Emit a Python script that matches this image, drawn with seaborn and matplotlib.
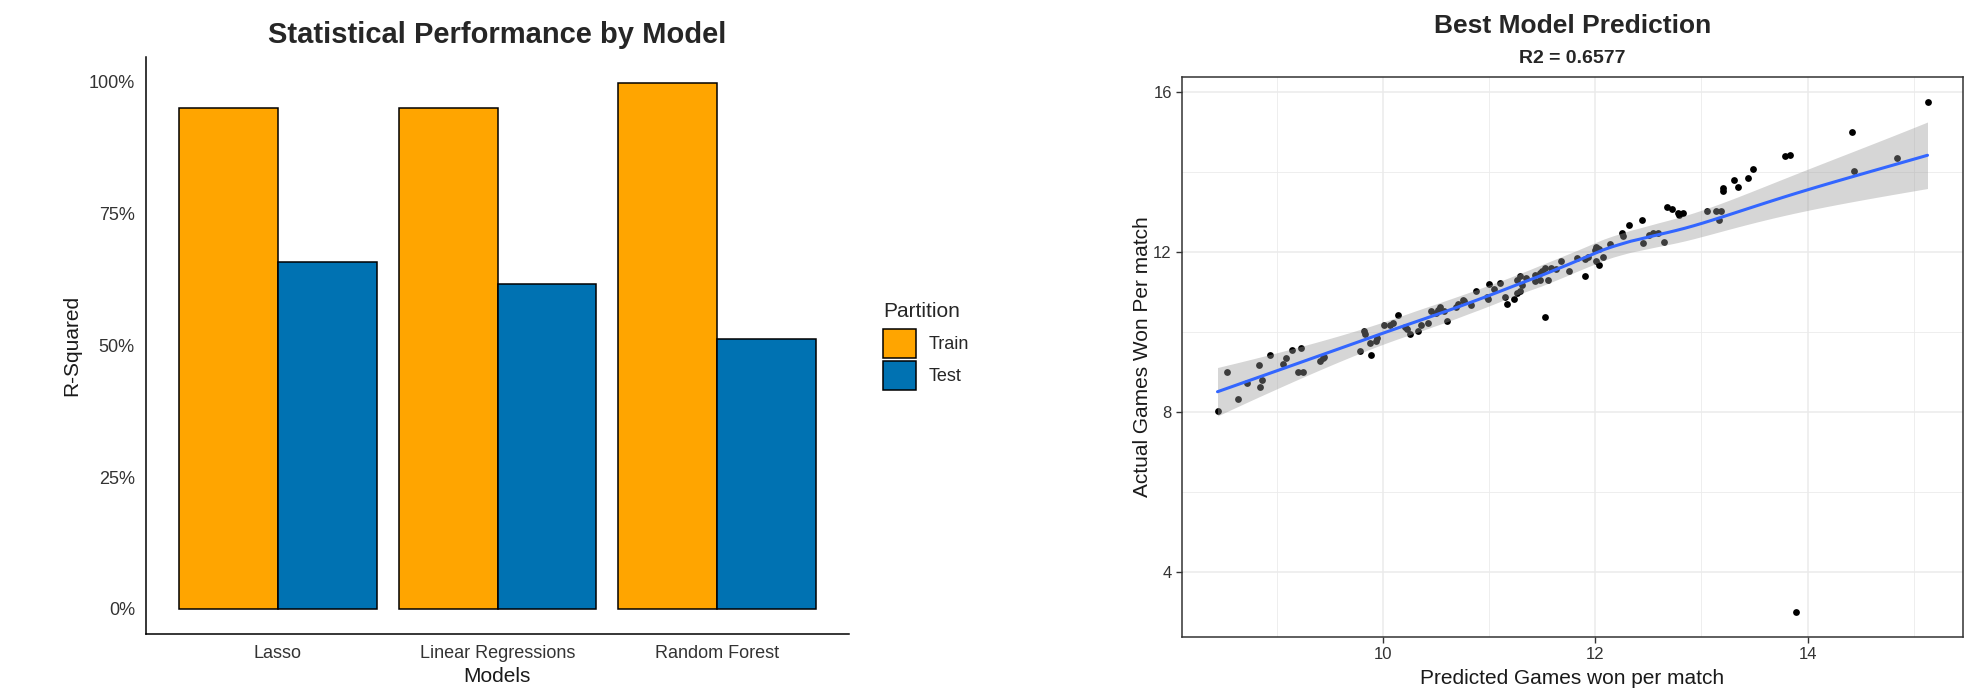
import matplotlib
matplotlib.use('Agg')
import matplotlib.pyplot as plt
from matplotlib.ticker import PercentFormatter, MultipleLocator
import seaborn as sns
import numpy as np
import pandas as pd

sns.set_style('white')
plt.rcParams['font.family'] = ['Liberation Sans', 'DejaVu Sans']

#%% data
models = ['Lasso', 'Linear Regressions', 'Random Forest']
train_r2 = [0.950, 0.951, 0.997]
test_r2 = [0.658, 0.616, 0.512]

pred = [15.13, 14.42, 13.79, 13.83, 14.84, 14.44, 13.49, 13.44, 13.31, 13.34,
        13.20, 13.20, 13.05, 13.14, 13.18, 13.17, 12.68, 12.72, 12.78, 12.83,
        12.79, 12.44, 12.32, 12.25, 12.26, 12.54, 12.59, 12.51, 12.65, 12.45,
        12.14, 12.01, 12.02, 12.00, 12.03, 12.07, 11.93, 11.90, 12.01, 12.03,
        11.83, 11.90, 11.68, 11.75, 11.63, 11.58, 11.53, 11.50, 11.48, 11.43,
        11.55, 11.43, 11.48, 11.53, 11.29, 11.26, 11.35, 11.31, 11.29, 11.26,
        11.23, 11.17, 11.15, 11.10, 11.00, 11.05, 10.99, 10.98, 10.88, 10.83,
        10.76, 10.71, 10.69, 10.75, 10.54, 10.52, 10.50, 10.45, 10.57, 10.60,
        10.42, 10.36, 10.33, 10.25, 10.23, 10.21, 10.14, 10.09, 10.07, 10.01,
        9.94, 9.93, 9.88, 9.82, 9.83, 9.78, 9.89, 9.43, 9.41, 9.44,
        9.23, 9.25, 9.20, 9.14, 9.09, 9.06, 8.93, 8.83, 8.86, 8.84,
        8.72, 8.53, 8.63, 8.44, 13.89]
actual = [15.74, 15.01, 14.41, 14.43, 14.35, 14.03, 14.07, 13.86, 13.79, 13.62,
          13.60, 13.53, 13.02, 13.02, 13.02, 12.81, 13.12, 13.08, 12.99, 12.97,
          12.92, 12.81, 12.67, 12.47, 12.41, 12.47, 12.49, 12.43, 12.26, 12.24,
          12.21, 12.14, 12.10, 12.06, 12.07, 11.89, 11.89, 11.82, 11.77, 11.67,
          11.86, 11.41, 11.79, 11.52, 11.57, 11.60, 11.60, 11.54, 11.48, 11.43,
          11.31, 11.27, 11.31, 10.37, 11.41, 11.31, 11.35, 11.18, 11.02, 10.97,
          10.82, 10.71, 10.87, 11.24, 11.21, 11.08, 10.82, 10.87, 11.03, 10.68,
          10.77, 10.71, 10.64, 10.81, 10.64, 10.56, 10.48, 10.52, 10.52, 10.29,
          10.23, 10.17, 10.02, 9.95, 10.07, 10.14, 10.43, 10.23, 10.17, 10.18,
          9.85, 9.78, 9.73, 10.04, 9.96, 9.52, 9.42, 9.35, 9.27, 9.39,
          9.60, 9.00, 9.00, 9.55, 9.35, 9.21, 9.42, 9.18, 8.81, 8.63,
          8.74, 9.00, 8.33, 8.02, 3.02]

#%% local regression smoother (tricube weights, span 0.75)
def loess_matrix(x, x_eval, span=0.75, degree=1):
    n = len(x)
    q = int(np.floor(n * span))
    rows = []
    for x0 in x_eval:
        d = np.abs(x - x0)
        h = np.sort(d)[q - 1]
        w = np.clip(1 - (d / h) ** 3, 0, None) ** 3
        X = np.column_stack([(x - x0) ** k for k in range(degree + 1)])
        XtW = X.T * w
        rows.append(np.linalg.solve(XtW @ X, XtW)[0])
    return np.array(rows)

xp = np.array(pred)
yp = np.array(actual)
grid = np.linspace(xp.min(), xp.max(), 80)
L_obs = loess_matrix(xp, xp)
resid = yp - L_obs @ yp
IL = np.eye(len(xp)) - L_obs
sigma = np.sqrt(np.sum(resid ** 2) / np.trace(IL.T @ IL))
L_grid = loess_matrix(xp, grid)
fit = L_grid @ yp
se = sigma * np.sqrt(np.sum(L_grid ** 2, axis=1))
lo, hi = fit - 1.98 * se, fit + 1.98 * se

#%% figure
fig = plt.figure(figsize=(19.85, 6.89), dpi=100)
ax1 = fig.add_axes([146 / 1985, 1 - 634 / 689, 703 / 1985, 577 / 689])
ax2 = fig.add_axes([1182 / 1985, 1 - 637 / 689, 781 / 1985, 560 / 689])

df = pd.DataFrame({'Models': models * 2,
                   'R2': train_r2 + test_r2,
                   'Partition': ['Train'] * 3 + ['Test'] * 3})

sns.barplot(data=df, x='Models', y='R2', hue='Partition', hue_order=['Train', 'Test'],
            palette={'Train': '#FFA500', 'Test': '#0072B2'}, width=0.9, gap=0,
            edgecolor='black', linewidth=1.1, errorbar=None, saturation=1, ax=ax1)

ax1.set_xlim(-0.6, 2.6)
ax1.set_ylim(-0.0475, 1.047)
ax1.set_yticks([0, 0.25, 0.5, 0.75, 1.0])
ax1.yaxis.set_major_formatter(PercentFormatter(1.0, decimals=0))
sns.despine(ax=ax1)
for s in ['left', 'bottom']:
    ax1.spines[s].set_color('black')
    ax1.spines[s].set_linewidth(1.1)
ax1.tick_params(length=5, width=1, color='#333333', labelsize=13, labelcolor='#333333', pad=3)
ax1.set_xlabel('')
ax1.set_ylabel('')

handles, labels = ax1.get_legend_handles_labels()
leg = ax1.legend(handles, labels, title='Partition', loc='upper left',
                 bbox_to_anchor=(883 / 1985, 1 - 302 / 689), bbox_transform=fig.transFigure,
                 frameon=False, fontsize=13, title_fontsize=15, handlelength=1.85, handleheight=2.05,
                 labelspacing=0.18, handletextpad=0.65, borderpad=0, borderaxespad=0, alignment='left')
leg._legend_box.sep = 6

fig.text(497 / 1985, 1 - 43 / 689, 'Statistical Performance by Model', ha='center', va='baseline',
         fontsize=21, fontweight='bold')
fig.text(497 / 1985, 1 - 682 / 689, 'Models', ha='center', va='baseline', fontsize=15, color='#1a1a1a')
fig.text(72 / 1985, 1 - 345 / 689, 'R-Squared', ha='center', va='center', rotation=90,
         fontsize=15, color='#1a1a1a')

#%% right panel
sns.scatterplot(x=pred, y=actual, color='black', s=24, linewidth=0, ax=ax2, zorder=3)
ax2.fill_between(grid, lo, hi, color='#999999', alpha=0.4, lw=0, zorder=4)
sns.lineplot(x=grid, y=fit, color='#3366FF', lw=2.2, ax=ax2, zorder=5)

xr = xp.max() - xp.min()
yr = yp.max() - yp.min()
ax2.set_xlim(xp.min() - 0.05 * xr, xp.max() + 0.05 * xr)
ax2.set_ylim(yp.min() - 0.05 * yr, yp.max() + 0.05 * yr)
ax2.set_xticks([10, 12, 14])
ax2.set_yticks([4, 8, 12, 16])
ax2.xaxis.set_minor_locator(MultipleLocator(1))
ax2.yaxis.set_minor_locator(MultipleLocator(2))
ax2.grid(which='major', color='#EBEBEB', lw=1.1)
ax2.grid(which='minor', color='#EBEBEB', lw=0.6)
ax2.set_axisbelow(True)
for s in ax2.spines.values():
    s.set_color('#333333')
    s.set_linewidth(1.1)
ax2.tick_params(which='major', length=4.3, width=1, color='#333333', labelsize=12,
                labelcolor='#333333', pad=3, left=True, bottom=True)
ax2.tick_params(which='minor', length=0)
ax2.set_xlabel('')
ax2.set_ylabel('')

fig.text(1572.5 / 1985, 1 - 33 / 689, 'Best Model Prediction', ha='center', va='baseline',
         fontsize=19, fontweight='bold')
fig.text(1572.5 / 1985, 1 - 63 / 689, 'R2 = 0.6577', ha='center', va='baseline',
         fontsize=14, fontweight='bold')
fig.text(1572.5 / 1985, 1 - 684 / 689, 'Predicted Games won per match', ha='center', va='baseline',
         fontsize=15, color='#1a1a1a')
fig.text(1142 / 1985, 1 - 357 / 689, 'Actual Games Won Per match', ha='center', va='center',
         rotation=90, fontsize=15, color='#1a1a1a')

fig.savefig('out.png', dpi=100)
